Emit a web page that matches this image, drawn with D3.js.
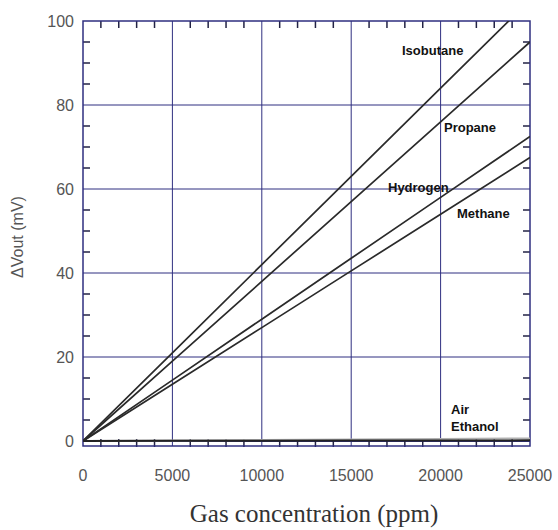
<!DOCTYPE html>
<html><head><meta charset="utf-8">
<script src="https://cdn.jsdelivr.net/npm/d3@7"></script>
<style>body{margin:0;background:#fff;}svg{display:block;}</style>
</head><body>
<script>
const concentration = [0, 5000, 10000, 15000, 20000, 25000];
const isobutane = [0, 21, 42, 63, 84, 105];
const propane   = [0, 19, 38, 57, 76, 95];
const hydrogen  = [0, 14.5, 29, 43.5, 58, 72.5];
const methane   = [0, 13.5, 27, 40.5, 54, 67.5];
const air       = [0, 0.03, 0.06, 0.09, 0.12, 0.15];
const ethanol   = [0, 0.12, 0.24, 0.36, 0.48, 0.6];
const xTicks = [0, 5000, 10000, 15000, 20000, 25000];
const yTicks = [0, 20, 40, 60, 80, 100];
const seriesNames = ["Isobutane", "Propane", "Hydrogen", "Methane", "Air", "Ethanol"];

const W = 558, H = 530;
const L = 83, R = 530, T = 21, B0 = 441, FB = 446;
const svg = d3.select("body").append("svg").attr("width", W).attr("height", H);
const x = d3.scaleLinear().domain([0, 25000]).range([L, R]);
const y = d3.scaleLinear().domain([0, 100]).range([B0, T]);
const gridC = "#2f2f80";

// clip
svg.append("clipPath").attr("id", "clip").append("rect")
  .attr("x", L).attr("y", T).attr("width", R - L).attr("height", FB - T);

// grid
const g = svg.append("g");
g.selectAll(".vg").data(xTicks.slice(1, -1)).join("line")
  .attr("x1", d => x(d)).attr("x2", d => x(d)).attr("y1", T).attr("y2", FB)
  .attr("stroke", gridC).attr("stroke-width", 1);
g.selectAll(".hg").data(yTicks.slice(1, -1)).join("line")
  .attr("x1", L).attr("x2", R).attr("y1", d => y(d)).attr("y2", d => y(d))
  .attr("stroke", gridC).attr("stroke-width", 1);
// zero line
g.append("line").attr("x1", L).attr("x2", R).attr("y1", y(0)).attr("y2", y(0))
  .attr("stroke", gridC).attr("stroke-width", 2);

// minor ticks
const xMinor = d3.range(1000, 25000, 1000).filter(d => d % 5000 !== 0);
const yMinor = d3.range(5, 100, 5).filter(d => d % 20 !== 0);
g.selectAll(".xt").data(xMinor).join("line")
  .attr("x1", d => x(d)).attr("x2", d => x(d)).attr("y1", T).attr("y2", T + 7)
  .attr("stroke", "#222244").attr("stroke-width", 1.5);
g.selectAll(".xb").data(xMinor).join("line")
  .attr("x1", d => x(d)).attr("x2", d => x(d)).attr("y1", B0 - 2).attr("y2", FB + 1)
  .attr("stroke", "#222244").attr("stroke-width", 1.5);
g.selectAll(".yl").data(yMinor).join("line")
  .attr("x1", L).attr("x2", L + 7).attr("y1", d => y(d)).attr("y2", d => y(d))
  .attr("stroke", "#222244").attr("stroke-width", 1.5);
g.selectAll(".yr").data(yMinor).join("line")
  .attr("x1", R - 7).attr("x2", R).attr("y1", d => y(d)).attr("y2", d => y(d))
  .attr("stroke", "#222244").attr("stroke-width", 1.5);

// frame
g.append("rect").attr("x", L).attr("y", T).attr("width", R - L).attr("height", FB - T)
  .attr("fill", "none").attr("stroke", gridC).attr("stroke-width", 1.5);

// data lines
const data = [isobutane, propane, hydrogen, methane, ethanol, air];
const colors = ["#2a2a2a", "#2a2a2a", "#2a2a2a", "#2a2a2a", "#b0b0b0", "#222"];
const line = d3.line().x((d, i) => x(concentration[i])).y(d => y(d));
svg.append("g").attr("clip-path", "url(#clip)").selectAll("path").data(data).join("path")
  .attr("d", d => line(d)).attr("fill", "none")
  .attr("stroke", (d, i) => colors[i]).attr("stroke-width", (d, i) => i < 4 ? 1.7 : 2);

// series labels
const labelPos = [[402, 55], [444, 132], [388, 192], [457, 218], [451, 414], [451, 431]];
svg.append("g").selectAll("text").data(seriesNames).join("text")
  .attr("x", (d, i) => labelPos[i][0]).attr("y", (d, i) => labelPos[i][1])
  .attr("font-family", "Arial, 'Liberation Sans', sans-serif").attr("font-weight", "bold")
  .attr("font-size", 13).attr("fill", "#111").text(d => d);

// tick labels
const tf = "Arial, 'Liberation Sans', sans-serif";
svg.append("g").selectAll("text").data(yTicks).join("text")
  .attr("x", 74).attr("y", d => y(d)).attr("dy", "0.36em").attr("text-anchor", "end")
  .attr("font-family", tf).attr("font-size", 16).attr("fill", "#555").text(d => d);
svg.append("g").selectAll("text").data(xTicks).join("text")
  .attr("x", d => x(d)).attr("y", 475).attr("dy", "0.36em").attr("text-anchor", "middle")
  .attr("font-family", tf).attr("font-size", 16).attr("fill", "#555").text(d => d);

// axis titles
svg.append("text").attr("transform", "translate(23,237) rotate(-90)")
  .attr("text-anchor", "middle").attr("font-family", tf).attr("font-size", 16)
  .attr("fill", "#555").text("ΔVout (mV)");
svg.append("text").attr("x", 314).attr("y", 522).attr("text-anchor", "middle")
  .attr("font-family", "'Times New Roman', 'Liberation Serif', serif").attr("font-size", 25)
  .attr("fill", "#333").text("Gas concentration (ppm)");
</script>
</body></html>
